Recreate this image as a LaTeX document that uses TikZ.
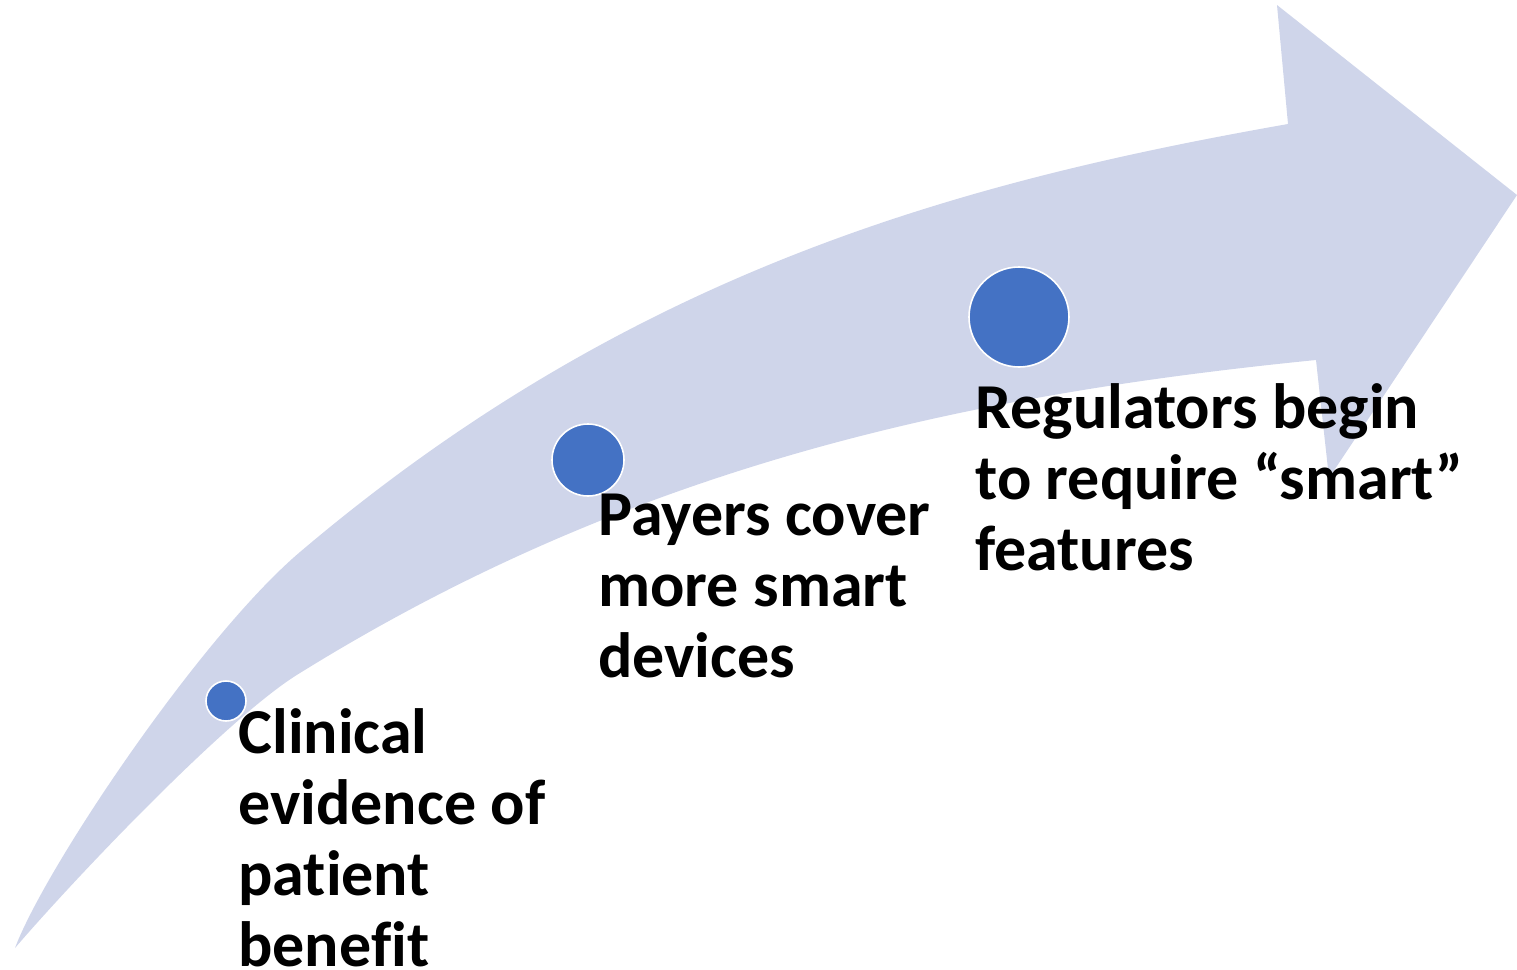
\documentclass[tikz,border=0pt]{standalone}
\usepackage{fontspec}
\setmainfont{Carlito}[Ligatures={TeX,NoCommon}]
\definecolor{arrowfill}{HTML}{CFD5EA}
\definecolor{dotblue}{HTML}{4472C4}
\begin{document}
\begin{tikzpicture}[x=0.5pt,y=-0.5pt,
  dot/.style={circle,fill=dotblue,draw=white,line width=0.8pt,inner sep=0pt},
  lbl/.style={anchor=base west,align=left,inner sep=0pt,font=\fontsize{32}{35.5}\selectfont\bfseries}]
\useasboundingbox (0,0) rectangle (1517,970);
\fill[arrowfill] (15,948) .. controls (45,868) and (200,637) .. (300,552)
  .. controls (630,272) and (958,182) .. (1288,124)
  -- (1277,5) -- (1517,195) -- (1329,478) -- (1316,360)
  .. controls (976,394) and (640,462) .. (300,673)
  .. controls (230,715) and (75,878) .. (15,948) -- cycle;
\node[dot,minimum size=20pt] (d1) at (226,701) {};
\node[dot,minimum size=36pt] (d2) at (588,460) {};
\node[dot,minimum size=50pt] (d3) at (1019,317) {};
\node[lbl] (t1) at (238,966) {Clinical\\evidence of\\patient\\benefit};
\node[lbl] (t2) at (598,677) {Payers cover\\more smart\\devices};
\node[lbl] (t3) at (975,570) {Regulators begin\\to require “smart”\\features};
\end{tikzpicture}
\end{document}
